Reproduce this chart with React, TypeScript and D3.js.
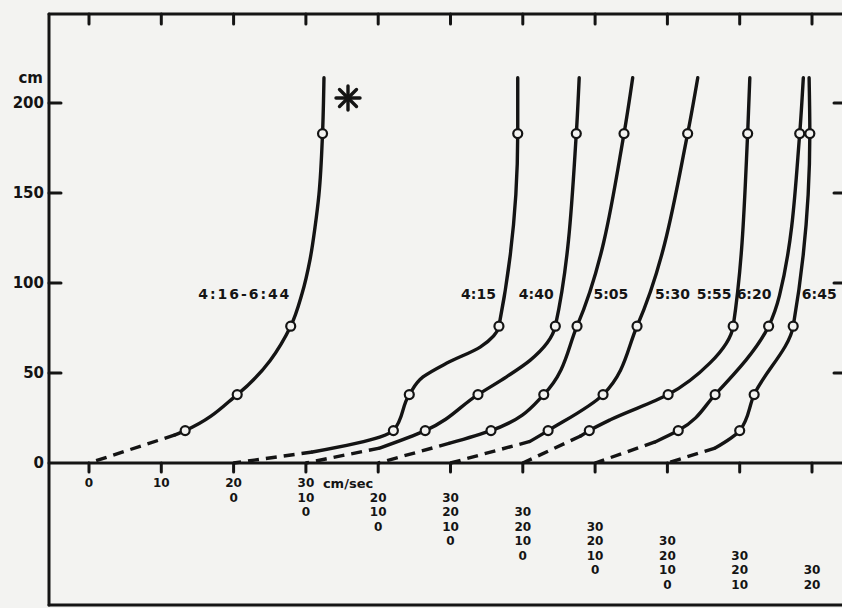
import React from "react";
import * as d3 from "d3";

// ---------- data ----------
const curveNames = ["4:16-6:44", "4:15", "4:40", "5:05", "5:30", "5:55", "6:20", "6:45"];
// velocity offset (cm/sec) at which each profile's zero sits on the shared axis
const zeroOffsets = [0, 20, 30, 40, 50, 60, 70, 80];
// heights (cm) of the measuring points (circles)
const circleHeights = [183, 76, 38, 18];
// velocities (cm/sec) read at those heights
const circleVelocities = [
  [32.3, 27.9, 20.5, 13.3],
  [39.3, 36.7, 24.3, 22.1],
  [37.4, 34.5, 23.8, 16.5],
  [34.0, 27.5, 22.9, 15.6],
  [32.8, 25.8, 21.1, 13.5],
  [31.1, 29.1, 20.1, 9.2],
  [28.3, 24.0, 16.6, 11.5],
  [19.7, 17.4, 12.0, 10.0],
];
// top end of each drawn profile
const topHeight = 214;
const topVelocities = [32.5, 39.3, 37.8, 35.2, 34.2, 31.4, 28.8, 19.6];
// extra traced points along each solid curve [height, velocity]
const tracedPoints: [number, number][][] = [
  [[149, 31.8], [131, 31.26], [113, 30.57], [94, 29.46], [15.6, 11.9]],
  [[64.4, 34.1], [55.5, 29.5], [47.8, 26.2], [14.4, 20.2], [6.1, 10.9]],
  [[57, 31.0], [48, 27.8], [8.3, 10.2]],
  [[11, 9.9]],
  [[12, 11.0]],
  [[55.6, 25.9], [24, 12.1], [15, 8.0]],
  [[93, 25.5], [11.7, 8.3]],
  [[8.3, 6.6]],
];
const yTicks = [0, 50, 100, 150, 200];
const yTickLabels = ["0", "50", "100", "150", "200"];
const xTicks = [0, 10, 20, 30, 40, 50, 60, 70, 80, 90, 100];
const profileTickValues = [0, 10, 20, 30];

// ---------- layout ----------
const W = 842;
const H = 608;
const axisX = 49;
const topY = 14;
const bottomY = 605;
const ink = "#141414";
const paper = "#f3f3f1";
const font = "'DejaVu Sans', sans-serif";
const labelSides = ["end", "end", "end", "start", "start", "end", "end", "start"];
const labelGaps = [12, 6, 5, 9, 10, 4, 8, 6];
const labelHeight = 93;

const x = d3.scaleLinear().domain([0, 100]).range([89, 812]);
const y = d3.scaleLinear().domain([0, 200]).range([463, 103]);

function solidPoints(k: number): [number, number][] {
  const pts: [number, number][] = [[topHeight, topVelocities[k]]];
  circleHeights.forEach((h, i) => pts.push([h, circleVelocities[k][i]]));
  tracedPoints[k].forEach((p) => pts.push(p));
  pts.sort((a, b) => b[0] - a[0]);
  return pts;
}

function velocityAt(pts: [number, number][], h: number) {
  for (let i = 0; i < pts.length - 1; i++) {
    const a = pts[i], b = pts[i + 1];
    if (h <= a[0] && h >= b[0]) {
      const t = (a[0] - h) / (a[0] - b[0]);
      return a[1] + t * (b[1] - a[1]);
    }
  }
  return pts[pts.length - 1][1];
}

export default function App() {
  const line = (off: number) =>
    d3
      .line<[number, number]>()
      .x((d) => x(off + d[1]))
      .y((d) => y(d[0]))
      .curve(d3.curveMonotoneY);

  return (
    <svg
      width={W}
      height={H}
      viewBox={`0 0 ${W} ${H}`}
      style={{ position: "absolute", left: 0, top: 0, display: "block" }}
    >
      <rect x={0} y={0} width={W} height={H} fill={paper} />

      {/* frame */}
      <g stroke={ink} strokeWidth={3} fill="none" strokeLinecap="round">
        <line x1={axisX} y1={topY} x2={axisX} y2={bottomY} />
        <line x1={axisX} y1={topY} x2={W} y2={topY} />
        <line x1={axisX} y1={bottomY} x2={W} y2={bottomY} />
        <line x1={axisX} y1={y(0)} x2={W} y2={y(0)} />
        {xTicks.map((t) => (
          <g key={"xt" + t}>
            <line x1={x(t)} y1={topY} x2={x(t)} y2={topY + 10} />
            <line x1={x(t)} y1={y(0)} x2={x(t)} y2={y(0) + 9} />
          </g>
        ))}
        {yTicks.slice(1).map((t) => (
          <g key={"yt" + t}>
            <line x1={axisX} y1={y(t)} x2={axisX + 12} y2={y(t)} />
            <line x1={W - 8} y1={y(t)} x2={W} y2={y(t)} />
          </g>
        ))}
      </g>

      {/* y labels */}
      <g fontFamily={font} fontWeight="bold" fontSize={15} fill={ink}>
        {yTicks.map((t, i) => (
          <text key={"yl" + t} x={axisX - 5} y={y(t)} textAnchor="end" dominantBaseline="central">
            {yTickLabels[i]}
          </text>
        ))}
        <text x={axisX - 6} y={78} textAnchor="end" dominantBaseline="central" fontSize={15}>
          cm
        </text>
      </g>

      {/* x tick labels for each profile */}
      <g fontFamily={font} fontWeight="bold" fontSize={12} fill={ink}>
        {zeroOffsets.map((off, k) =>
          profileTickValues
            .filter((v) => off + v <= 100)
            .map((v) => (
              <text
                key={"pl" + k + "-" + v}
                x={x(off + v)}
                y={483 + 14.5 * k}
                textAnchor="middle"
                dominantBaseline="central"
              >
                {v}
              </text>
            ))
        )}
        <text x={x(30) + 17} y={483} dominantBaseline="central" fontSize={13}>
          cm/sec
        </text>
      </g>

      {/* profiles */}
      {zeroOffsets.map((off, k) => {
        const pts = solidPoints(k);
        const last = pts[pts.length - 1];
        const dashed: [number, number][] = [last, [0, 0]];
        const lv = velocityAt(pts, labelHeight);
        const side = labelSides[k];
        const lx = x(off + lv) + (side === "end" ? -labelGaps[k] : labelGaps[k]);
        return (
          <g key={"c" + k}>
            <path d={line(off)(pts) || ""} fill="none" stroke={ink} strokeWidth={3.4} strokeLinecap="round" />
            <path
              d={line(off)(dashed) || ""}
              fill="none"
              stroke={ink}
              strokeWidth={3.4}
              strokeDasharray="11,7"
            />
            {circleHeights.map((h, i) => (
              <circle
                key={"p" + i}
                cx={x(off + circleVelocities[k][i])}
                cy={y(h)}
                r={4.5}
                fill={paper}
                stroke={ink}
                strokeWidth={2.2}
              />
            ))}
            <text
              x={lx}
              y={y(labelHeight) - 2}
              textAnchor={side}
              dominantBaseline="central"
              fontFamily={font}
              fontWeight="bold"
              fontSize={14}
              fill={ink}
              {...(k === 0 ? { textLength: 91, lengthAdjust: "spacing" } : {})}
            >
              {curveNames[k]}
            </text>
          </g>
        );
      })}

      {/* asterisk */}
      <g stroke={ink} strokeWidth={3.4} strokeLinecap="round">
        {[0, 45, 90, 135].map((a) => {
          const r = 12;
          const rad = (a * Math.PI) / 180;
          const cx = 348, cy = 98;
          return (
            <line
              key={"s" + a}
              x1={cx - r * Math.cos(rad)}
              y1={cy - r * Math.sin(rad)}
              x2={cx + r * Math.cos(rad)}
              y2={cy + r * Math.sin(rad)}
            />
          );
        })}
      </g>
    </svg>
  );
}
